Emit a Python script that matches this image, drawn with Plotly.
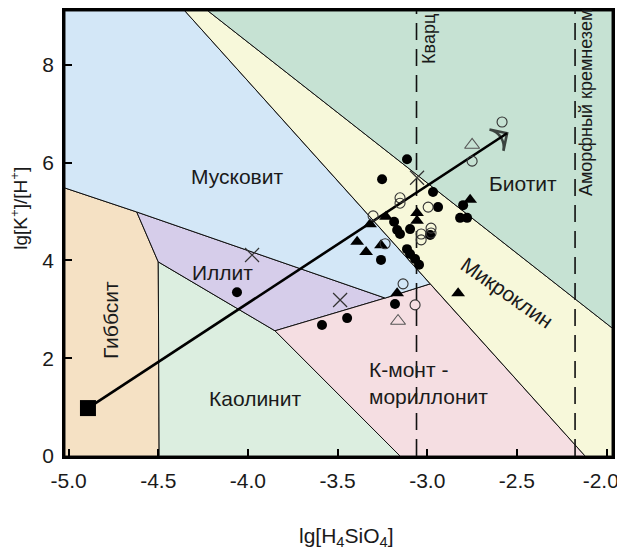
import plotly.graph_objects as go

FONT = "Liberation Sans, Arial, sans-serif"

X_RANGE = [-5.02, -1.97]
Y_RANGE = [0, 9.1]
X_TICKS = [-5.0, -4.5, -4.0, -3.5, -3.0, -2.5, -2.0]
X_TICK_LABELS = ["-5.0", "-4.5", "-4.0", "-3.5", "-3.0", "-2.5", "-2.0\u00a0\u00a0"]
Y_TICKS = [0, 2, 4, 6, 8]

# stability fields (vertices)
GIBBSITE_X = [-5.02, -4.495, -4.5, -4.62, -5.02]
GIBBSITE_Y = [0, 0, 3.97, 4.99, 5.48]
KAOLINITE_X = [-4.495, -3.152, -3.849, -4.5]
KAOLINITE_Y = [0, 0, 2.56, 3.97]
ILLITE_X = [-4.5, -3.849, -3.235, -4.62]
ILLITE_Y = [3.97, 2.56, 3.23, 4.99]
KMONT_X = [-3.152, -2.12, -2.984, -3.235, -3.849]
KMONT_Y = [0, 0, 3.52, 3.23, 2.56]
MUSCOVITE_X = [-5.02, -4.62, -3.235, -2.984, -4.351, -5.02]
MUSCOVITE_Y = [5.48, 4.99, 3.23, 3.52, 9.1, 9.1]
MICROCLINE_X = [-4.351, -2.12, -1.97, -1.97, -4.222]
MICROCLINE_Y = [9.1, 0, 0, 2.62, 9.1]
BIOTITE_X = [-4.222, -1.97, -1.97]
BIOTITE_Y = [9.1, 2.62, 9.1]

FIELDS = [
    ("Гиббсит", GIBBSITE_X, GIBBSITE_Y, "#F5E1C4"),
    ("Каолинит", KAOLINITE_X, KAOLINITE_Y, "#DCEEE0"),
    ("Иллит", ILLITE_X, ILLITE_Y, "#D6CDEA"),
    ("К-монтмориллонит", KMONT_X, KMONT_Y, "#F5DEE2"),
    ("Мусковит", MUSCOVITE_X, MUSCOVITE_Y, "#D3E7F7"),
    ("Микроклин", MICROCLINE_X, MICROCLINE_Y, "#F7F8DA"),
    ("Биотит", BIOTITE_X, BIOTITE_Y, "#C6E2D3"),
]

# silica saturation lines
QUARTZ_X = -3.06
AMORPH_X = -2.176

# trend arrow (start = square, end = arrow head)
ARROW_X = [-4.892, -2.555]
ARROW_Y = [0.98, 6.6]

# samples
FILLED_CIRCLE_X = [-4.061, -3.587, -3.447, -3.180, -3.258, -3.113, -3.096, -3.068, -3.046,
                   -3.185, -3.168, -3.152, -3.096, -2.984, -3.113, -3.252, -2.968, -2.940,
                   -2.800, -2.817, -2.778]
FILLED_CIRCLE_Y = [3.35, 2.68, 2.82, 3.11, 4.01, 4.23, 4.13, 4.03, 3.91,
                   4.79, 4.62, 4.54, 4.64, 4.52, 6.07, 5.66, 5.40, 5.09,
                   5.13, 4.87, 4.87]
FILLED_TRI_X = [-3.391, -3.341, -3.258, -3.230, -3.319, -3.057, -3.057, -3.168, -2.828, -2.761]
FILLED_TRI_Y = [4.38, 4.17, 4.31, 4.89, 4.74, 4.97, 4.81, 3.33, 3.33, 5.24]
OPEN_CIRCLE_X = [-2.583, -2.750, -3.152, -3.152, -2.995, -3.302, -2.979, -2.979, -3.034,
                 -3.034, -3.235, -3.135, -3.068]
OPEN_CIRCLE_Y = [6.83, 6.03, 5.28, 5.17, 5.09, 4.91, 4.66, 4.56, 4.54,
                 4.42, 4.34, 3.52, 3.09]
OPEN_TRI_X = [-2.750, -3.163]
OPEN_TRI_Y = [6.36, 2.76]
CROSS_X = [-3.977, -3.486, -3.057]
CROSS_Y = [4.11, 3.19, 5.69]

# field labels
LABELS = [
    ("Мусковит", -4.06, 5.71, 0),
    ("Иллит", -4.144, 3.76, 0),
    ("Гиббсит", -4.769, 2.78, -90),
    ("Каолинит", -3.96, 1.17, 0),
    ("Биотит", -2.466, 5.58, 0),
    ("Микроклин", -2.555, 3.35, 35),
]
KMONT_LABEL = ("К-монт -<br>мориллонит", -3.336, 1.49)
QUARTZ_LABEL = ("Кварц", -2.99, 8.53)
AMORPH_LABEL = ("Аморфный кремнезем", -2.114, 7.22)

fig = go.Figure()

for name, xs, ys, col in FIELDS:
    fig.add_trace(go.Scatter(
        x=xs + [xs[0]], y=ys + [ys[0]], mode="lines", fill="toself",
        fillcolor=col, line=dict(color="#111111", width=1), name=name,
        hoverinfo="skip", showlegend=False))

for xv in (QUARTZ_X, AMORPH_X):
    fig.add_trace(go.Scatter(
        x=[xv, xv], y=Y_RANGE, mode="lines",
        line=dict(color="#111111", width=1.6, dash="17px,9px"),
        hoverinfo="skip", showlegend=False))

fig.add_trace(go.Scatter(
    x=ARROW_X, y=ARROW_Y, mode="lines+markers",
    line=dict(color="black", width=2.6),
    marker=dict(symbol="arrow-wide-open", size=[0, 18],
                angleref="previous", color="black",
                line=dict(color="black", width=2.6)),
    hoverinfo="skip", showlegend=False))
fig.add_trace(go.Scatter(
    x=ARROW_X[:1], y=ARROW_Y[:1], mode="markers",
    marker=dict(symbol="square", size=16, color="black"),
    hoverinfo="skip", showlegend=False))

fig.add_trace(go.Scatter(
    x=FILLED_CIRCLE_X, y=FILLED_CIRCLE_Y, mode="markers",
    marker=dict(symbol="circle", size=10, color="black"), showlegend=False))
fig.add_trace(go.Scatter(
    x=FILLED_TRI_X, y=FILLED_TRI_Y, mode="markers",
    marker=dict(symbol="triangle-up", size=12, color="black"), showlegend=False))
fig.add_trace(go.Scatter(
    x=OPEN_CIRCLE_X, y=OPEN_CIRCLE_Y, mode="markers",
    marker=dict(symbol="circle-open", size=10, color="#333333", line=dict(width=1.1)),
    showlegend=False))
fig.add_trace(go.Scatter(
    x=OPEN_TRI_X, y=OPEN_TRI_Y, mode="markers",
    marker=dict(symbol="triangle-up-open", size=13, color="#555555", line=dict(width=1.1)),
    showlegend=False))
fig.add_trace(go.Scatter(
    x=CROSS_X, y=CROSS_Y, mode="markers",
    marker=dict(symbol="x-thin-open", size=14, color="#333333", line=dict(width=1.2)),
    showlegend=False))

annos = []
for text, x, y, ang in LABELS:
    annos.append(dict(x=x, y=y, text=text, showarrow=False, textangle=ang,
                      font=dict(size=21, color="#1a1a1a", family=FONT)))
annos.append(dict(x=KMONT_LABEL[1], y=KMONT_LABEL[2], text=KMONT_LABEL[0], showarrow=False,
                  align="left", xanchor="left",
                  font=dict(size=21, color="#1a1a1a", family=FONT)))
annos.append(dict(x=QUARTZ_LABEL[1], y=QUARTZ_LABEL[2], text=QUARTZ_LABEL[0], showarrow=False,
                  textangle=-90, font=dict(size=18, color="#1a1a1a", family=FONT)))
annos.append(dict(x=AMORPH_LABEL[1], y=AMORPH_LABEL[2], text=AMORPH_LABEL[0], showarrow=False,
                  textangle=-90, font=dict(size=18, color="#1a1a1a", family=FONT)))
annos.append(dict(xref="paper", yref="paper", x=0.514, y=-0.182, xanchor="center", yanchor="middle",
                  text="lg[H<sub>4</sub>SiO<sub>4</sub>]", showarrow=False,
                  font=dict(size=21, color="#1a1a1a", family=FONT)))
annos.append(dict(xref="paper", yref="paper", x=-0.083, y=0.557, xanchor="center", yanchor="middle",
                  text="lg[K<sup>+</sup>]/[H<sup>+</sup>]", showarrow=False, textangle=-90,
                  font=dict(size=19, color="#1a1a1a", family=FONT)))

fig.update_layout(
    width=617, height=544,
    margin=dict(l=57, r=13, t=3, b=96, autoexpand=False),
    paper_bgcolor="white", plot_bgcolor="white",
    font=dict(family=FONT, size=21, color="#1a1a1a"),
    annotations=annos,
    showlegend=False,
)
fig.update_xaxes(range=X_RANGE, tickvals=X_TICKS, ticktext=X_TICK_LABELS,
                 ticks="inside", ticklen=7, tickwidth=1.5, tickcolor="black",
                 showline=True, linewidth=2.5, linecolor="black", mirror=True,
                 showgrid=False, zeroline=False, ticklabelstandoff=4, automargin=False,
                 ticklabeloverflow="allow")
fig.update_yaxes(range=Y_RANGE, tickvals=Y_TICKS,
                 ticks="inside", ticklen=7, tickwidth=1.5, tickcolor="black",
                 showline=True, linewidth=2.5, linecolor="black", mirror=True,
                 showgrid=False, zeroline=False, ticklabelstandoff=4, automargin=False)

fig.write_html("out.html")
